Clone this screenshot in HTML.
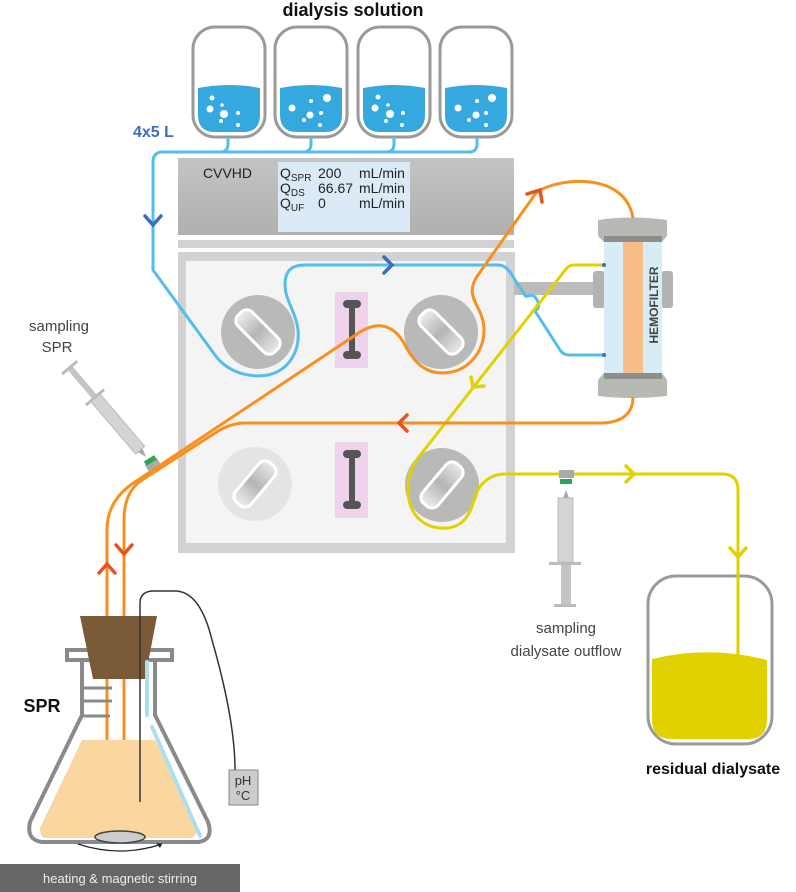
<!DOCTYPE html>
<html><head><meta charset="utf-8"><style>
html,body{margin:0;padding:0;background:#fff}
svg{display:block}
text{font-family:"Liberation Sans",sans-serif}
</style></head><body>
<svg width="796" height="892" viewBox="0 0 796 892" xmlns="http://www.w3.org/2000/svg">
<defs>
<linearGradient id="met" x1="0" y1="0" x2="1" y2="0">
<stop offset="0" stop-color="#eee"/><stop offset="0.5" stop-color="#b5b5b5"/><stop offset="1" stop-color="#e8e8e8"/>
</linearGradient>
<linearGradient id="cv" x1="0" y1="0" x2="0" y2="1">
<stop offset="0" stop-color="#c4c4c4"/><stop offset="1" stop-color="#b0b0b0"/>
</linearGradient>
</defs>

<!-- title -->
<text x="353" y="16" font-size="18" font-weight="bold" text-anchor="middle" fill="#111">dialysis solution</text>

<!-- bottles -->
<g stroke="#9a9a9a" stroke-width="3" fill="#fff">
<rect x="193" y="27" width="72" height="110" rx="22"/>
<rect x="275" y="27" width="72" height="110" rx="22"/>
<rect x="358" y="27" width="72" height="110" rx="22"/>
<rect x="440" y="27" width="72" height="110" rx="22"/>
</g>
<g fill="#36a8e0">
<path d="M198,88 Q229,82 260,88 V115 Q260,132 243,132 H215 Q198,132 198,115Z"/>
<path d="M280,88 Q311,82 342,88 V115 Q342,132 325,132 H297 Q280,132 280,115Z"/>
<path d="M363,88 Q394,82 425,88 V115 Q425,132 408,132 H380 Q363,132 363,115Z"/>
<path d="M445,88 Q476,82 507,88 V115 Q507,132 490,132 H462 Q445,132 445,115Z"/>
</g>
<g fill="#fff">
<circle cx="212" cy="98" r="2.5"/><circle cx="210" cy="109" r="3.5"/><circle cx="224" cy="114" r="4"/><circle cx="222" cy="105" r="1.8"/><circle cx="238" cy="113" r="2"/><circle cx="221" cy="121" r="2"/><circle cx="238" cy="125" r="2"/>
<circle cx="292" cy="108" r="3.5"/><circle cx="311" cy="101" r="2"/><circle cx="327" cy="98" r="4"/><circle cx="310" cy="115" r="3.5"/><circle cx="321" cy="113" r="2"/><circle cx="304" cy="120" r="2"/><circle cx="320" cy="125" r="2"/>
<circle cx="378" cy="97" r="2.5"/><circle cx="375" cy="108" r="3.5"/><circle cx="388" cy="105" r="1.8"/><circle cx="390" cy="114" r="4"/><circle cx="403" cy="113" r="2"/><circle cx="386" cy="121" r="2"/><circle cx="402" cy="125" r="2"/>
<circle cx="458" cy="108" r="3.5"/><circle cx="477" cy="101" r="2"/><circle cx="492" cy="98" r="4"/><circle cx="476" cy="115" r="3.5"/><circle cx="486" cy="113" r="2"/><circle cx="469" cy="120" r="2"/><circle cx="486" cy="125" r="2"/>
</g>
<text x="133" y="137" font-size="16" font-weight="bold" fill="#3a6cc0">4x5 L</text>

<!-- CVVHD box -->
<rect x="178" y="158" width="336" height="77" fill="url(#cv)"/>
<rect x="278" y="162" width="132" height="70" fill="#dce9f6"/>
<text x="203" y="178" font-size="14" fill="#222">CVVHD</text>
<g font-size="14" fill="#222">
<text x="280" y="178">Q<tspan font-size="10" dy="3">SPR</tspan></text>
<text x="280" y="193">Q<tspan font-size="10" dy="3">DS</tspan></text>
<text x="280" y="208">Q<tspan font-size="10" dy="3">UF</tspan></text>
<text x="318" y="178">200</text><text x="318" y="193">66.67</text><text x="318" y="208">0</text>
<text x="359" y="178">mL/min</text><text x="359" y="193">mL/min</text><text x="359" y="208">mL/min</text>
</g>
<rect x="178" y="240" width="336" height="8" fill="#d2d2d2"/>

<!-- panel -->
<rect x="178" y="252" width="337" height="301" fill="#d2d2d2"/>
<rect x="186" y="261" width="320" height="282" fill="#f4f4f4"/>

<!-- gray bar to hemofilter -->
<rect x="514" y="282" width="82" height="13" fill="#b9bcb8"/>

<!-- pink rects -->
<rect x="335" y="292" width="33" height="76" fill="#efd3ec"/>
<rect x="335" y="442" width="33" height="76" fill="#efd3ec"/>
<g fill="#555">
<rect x="349" y="300" width="6" height="56"/><rect x="343" y="300" width="18" height="8" rx="4"/><rect x="343" y="351" width="18" height="8" rx="4"/>
<rect x="349" y="450" width="6" height="56"/><rect x="343" y="450" width="18" height="8" rx="4"/><rect x="343" y="501" width="18" height="8" rx="4"/>
</g>

<!-- pumps -->
<circle cx="258" cy="332" r="37" fill="#b7bab6"/>
<circle cx="441" cy="332" r="37" fill="#b7bab6"/>
<circle cx="255" cy="484" r="37" fill="#e4e4e4"/>
<circle cx="442" cy="485" r="37" fill="#b7bab6"/>
<g stroke="#fff" stroke-width="3" fill="url(#met)">
<rect x="-26" y="-10" width="52" height="20" rx="8" transform="translate(258,332) rotate(45)"/>
<rect x="-26" y="-10" width="52" height="20" rx="8" transform="translate(441,332) rotate(45)"/>
<rect x="-26" y="-10" width="52" height="20" rx="8" transform="translate(255,484) rotate(-50)"/>
<rect x="-26" y="-10" width="52" height="20" rx="8" transform="translate(442,485) rotate(-50)"/>
</g>

<!-- hemofilter -->
<rect x="593" y="271" width="12" height="37" rx="3" fill="#b3b3b3"/>
<rect x="661" y="271" width="12" height="37" rx="3" fill="#b3b3b3"/>
<rect x="604" y="242" width="58" height="131" fill="#d8ecf5"/>
<rect x="623" y="242" width="20" height="131" fill="#f8be88"/>
<path d="M598,220 Q632,215 667,220 V236 L662,242 H604 L598,236Z" fill="#b7b9b5"/>
<rect x="604" y="236" width="58" height="6" fill="#8e8e8e"/>
<path d="M598,396 Q632,400 667,396 V380 L662,373 H604 L598,380Z" fill="#b7b9b5"/>
<rect x="604" y="373" width="58" height="6" fill="#8e8e8e"/>
<text transform="translate(658,305) rotate(-90)" font-size="12" font-weight="bold" fill="#444" text-anchor="middle">HEMOFILTER</text>

<!-- blue line -->
<g fill="none" stroke="#55bdea" stroke-width="3">
<path d="M228,137 V144 Q228,152 220,152 H163 Q153,152 153,162 V270 L215,355 C228,373 250,378 268,375 C290,370 300,350 298,330 C296,312 285,300 285,285 C285,270 292,265 305,265 L498,265 Q505,265 510,272 L526,297"/>
<path d="M311,137 V144 Q311,152 303,152 H220"/>
<path d="M394,137 V144 Q394,152 386,152 H300"/>
<path d="M477,137 V144 Q477,152 469,152 H380"/>
<path d="M526,297 Q534,292 538,302 Q540,308 535,311 L560,350 Q563,355 570,355 L604,355"/>
</g>
<g fill="none" stroke="#3a6cc0" stroke-width="3.5" stroke-linecap="round">
<polyline points="145,216 153,225 161,216"/>
<polyline points="384,257 392,265 384,273"/>
</g>

<!-- yellow line -->
<g fill="none" stroke="#e2d100" stroke-width="3">
<path d="M604,265 L574,265 Q569,265 566,269 L418,458 C400,482 405,525 440,528 C462,530 470,515 474,500 C478,484 490,474 505,474 L722,474 Q738,474 738,490 V653"/>
</g>
<g fill="none" stroke="#e2d100" stroke-width="3.5" stroke-linecap="round">
<polyline points="471,377 473,387 484,386"/>
<polyline points="626,466 634,474 626,482"/>
<polyline points="730,548 738,557 746,548"/>
</g>
<circle cx="604" cy="265" r="2" fill="#3a6cc0"/><circle cx="604" cy="355" r="2" fill="#3a6cc0"/>

<!-- orange lines -->
<g fill="none" stroke="#f7901e" stroke-width="3">
<path d="M107,803 V530 Q107,500 135,482 L360,332 C383,318 397,330 405,345 C416,366 428,373 442,373 C468,373 484,352 484,330 C484,305 462,298 478,275 L536,193 C555,178 625,170 633,218"/>
<path d="M633,397 C633,415 620,423 600,423 L245,423 Q230,423 215,433 L142,480 Q124,492 124,520 V767"/>
</g>
<g fill="none" stroke="#e8521e" stroke-width="3.5" stroke-linecap="round">
<polyline points="527,194 540,190 542,202"/>
<polyline points="407,415 399,423 407,431"/>
<polyline points="116,545 124,554 132,545"/>
<polyline points="99,573 107,564 115,573"/>
</g>

<!-- syringe SPR -->
<g transform="translate(146,457) rotate(-130.5)">
<polygon points="0,0 9,-3 9,3" fill="#aaa"/>
<rect x="9" y="-6" width="70" height="12" fill="#d4d4d4" stroke="#bbb"/>
<rect x="79" y="-3" width="38" height="6" fill="#c4c4c4"/>
<rect x="77" y="-12" width="3" height="24" fill="#bbb"/>
<rect x="116" y="-10" width="3" height="20" fill="#bbb"/>
</g>
<rect x="146" y="461" width="14" height="7" fill="#aaa" transform="rotate(-32 153 465)"/>
<rect x="144" y="458" width="12" height="5" fill="#2aa65b" transform="rotate(-32 150 460)"/>
<text x="59" y="331" font-size="15" fill="#444" text-anchor="middle">sampling</text>
<text x="57" y="352" font-size="15" fill="#444" text-anchor="middle">SPR</text>

<!-- syringe dialysate -->
<rect x="559" y="470" width="15" height="8" fill="#aaa"/>
<rect x="560" y="479" width="12" height="5" fill="#2aa65b"/>
<polygon points="566,490 563,498 569,498" fill="#aaa"/>
<rect x="558" y="498" width="15" height="64" fill="#d4d4d4" stroke="#bbb"/>
<rect x="549" y="562" width="32" height="3" fill="#bbb"/>
<rect x="561" y="565" width="10" height="40" fill="#c4c4c4"/>
<rect x="554" y="604" width="22" height="3" fill="#bbb"/>
<text x="566" y="633" font-size="15" fill="#444" text-anchor="middle">sampling</text>
<text x="566" y="656" font-size="15" fill="#444" text-anchor="middle">dialysate outflow</text>

<!-- residual bottle -->
<rect x="648" y="576" width="124" height="168" rx="28" fill="#fff" stroke="#9a9a9a" stroke-width="3"/>
<path d="M652,659 Q710,645 767,660 V720 Q767,739 748,739 H672 Q652,739 652,720Z" fill="#e2d100"/>
<line x1="738" y1="555" x2="738" y2="655" stroke="#e2d100" stroke-width="3"/>
<text x="713" y="774" font-size="16" font-weight="bold" fill="#111" text-anchor="middle">residual dialysate</text>

<!-- flask -->
<path d="M40,828 L82,740 H155 L198,828 Q196,838 190,838 H46 Q40,838 40,828Z" fill="#fad7a0"/>
<path d="M82,660 V715 L30,822 Q26,840 42,842 H198 Q214,840 208,822 L155,715 V660" fill="none" stroke="#8a8a8a" stroke-width="4"/>
<rect x="67" y="650" width="105" height="10" fill="none" stroke="#8a8a8a" stroke-width="4"/>
<polygon points="80,616 157,616 145,679 93,679" fill="#7a5a38"/>
<g stroke="#8a8a8a" stroke-width="3"><line x1="82" y1="688" x2="112" y2="688"/><line x1="82" y1="701" x2="112" y2="701"/><line x1="82" y1="716" x2="110" y2="716"/></g>
<g stroke="#a8e0f2" stroke-width="4" stroke-linecap="round"><line x1="147" y1="662" x2="147" y2="715"/><line x1="152" y1="727" x2="200" y2="836"/></g>
<path d="M140,802 V603 Q140,592 152,591 H175 Q200,591 212,640 Q235,720 235,770" fill="none" stroke="#333" stroke-width="1.5"/>
<rect x="229" y="770" width="29" height="35" fill="#ccc" stroke="#888"/>
<text x="243" y="785" font-size="13" fill="#333" text-anchor="middle">pH</text>
<text x="243" y="800" font-size="13" fill="#333" text-anchor="middle">°C</text>
<ellipse cx="120" cy="837" rx="25" ry="6" fill="#ccc" stroke="#444" stroke-width="1.5"/>
<path d="M78,844 Q120,858 162,844" fill="none" stroke="#222" stroke-width="1.2"/>
<polygon points="162,844 156,843 160,848" fill="#222"/>
<text x="42" y="712" font-size="18" font-weight="bold" fill="#111" text-anchor="middle">SPR</text>
<rect x="0" y="864" width="240" height="28" fill="#666"/>
<text x="120" y="883" font-size="13" fill="#eee" text-anchor="middle">heating &amp; magnetic stirring</text>
</svg>
</body></html>
